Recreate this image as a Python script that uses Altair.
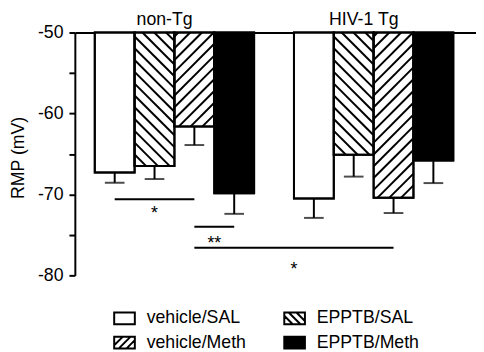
import altair as alt
import pandas as pd

# ---------------- data ----------------
groups = ["non-Tg", "HIV-1 Tg"]
treatments = ["vehicle/SAL", "EPPTB/SAL", "vehicle/Meth", "EPPTB/Meth"]
legend_order = ["vehicle/SAL", "vehicle/Meth", "EPPTB/SAL", "EPPTB/Meth"]
means_nontg = [-67.3, -66.5, -61.6, -69.85]
sems_nontg = [1.25, 1.6, 2.3, 2.55]
means_hiv = [-70.5, -65.1, -70.4, -65.8]
sems_hiv = [2.4, 2.7, 1.9, 2.8]

y_ticks = [-80, -75, -70, -65, -60, -55, -50]
baseline = -50

# significance brackets (bar slots: non-Tg 1-4, HIV-1 Tg 6-9)
sig_from = [1, 3, 3]
sig_to = [3, 4, 8]
sig_y = [-70.6, -74.0, -76.6]
sig_label_y = [-71.8, -75.5, -78.7]
sig_text = ["*", "**", "*"]

# ---------------- layout / style ----------------
W, H = 408, 247
XMAX = 10.07
YMIN, YMAX = -80, -50
PX_X = W / XMAX
PX_Y = H / (YMAX - YMIN)
HATCH_STEP = 12.0
FONT = "Liberation Sans"
hatch_dir = {"EPPTB/SAL": "back", "vehicle/Meth": "fwd"}

rows = []
for g, (means, sems) in enumerate([(means_nontg, sems_nontg), (means_hiv, sems_hiv)]):
    for i, t in enumerate(treatments):
        slot = g * 5 + i + 1
        rows.append({"group": groups[g], "treatment": t, "slot": slot,
                     "x0": slot - 0.5, "x1": slot + 0.5,
                     "mean": means[i], "base": baseline,
                     "err": means[i] - sems[i]})
df = pd.DataFrame(rows)

# hatch segments computed from bar geometry
hrows = []
for r in rows:
    d = hatch_dir.get(r["treatment"])
    if not d:
        continue
    Wb = PX_X
    Hb = (baseline - r["mean"]) * PX_Y
    kmin = -int(Wb / HATCH_STEP) - 2
    kmax = int((Hb + Wb) / HATCH_STEP) + 2
    for k in range(kmin, kmax):
        c = k * HATCH_STEP + 4
        if d == "fwd":
            u0, u1 = max(0.0, c - Hb), min(Wb, c)
            v0, v1 = c - u0, c - u1
        else:
            u0, u1 = max(0.0, -c), min(Wb, Hb - c)
            v0, v1 = u0 + c, u1 + c
        if u1 - u0 > 0.8:
            hrows.append({"x": r["x0"] + u0 / PX_X, "x2": r["x0"] + u1 / PX_X,
                          "y": baseline - v0 / PX_Y, "y2": baseline - v1 / PX_Y})
hdf = pd.DataFrame(hrows)

sdf = pd.DataFrame({"x": sig_from, "x2": sig_to, "y": sig_y,
                    "ly": sig_label_y, "txt": sig_text})
sdf["mid"] = (sdf["x"] + sdf["x2"]) / 2

gdf = pd.DataFrame({"group": groups,
                    "cx": [df[df.group == g]["slot"].mean() for g in groups],
                    "y": [baseline, baseline]})

# legend symbol paths
HY = 0.57
def box():
    return f"M-1,{-HY}L1,{-HY}L1,{HY}L-1,{HY}Z"
def hatch_path(kind):
    p = box()
    for c in [-0.75, 0.0, 0.75]:
        if kind == "back":
            xa, xb = max(-1, -HY - c), min(1, HY - c)
            p += f"M{xa:.3f},{xa + c:.3f}L{xb:.3f},{xb + c:.3f}"
        else:
            xa, xb = max(-1, c - HY), min(1, c + HY)
            p += f"M{xa:.3f},{c - xa:.3f}L{xb:.3f},{c - xb:.3f}"
    return p
shape_of = {"vehicle/SAL": box(), "EPPTB/SAL": hatch_path("back"),
            "vehicle/Meth": hatch_path("fwd"), "EPPTB/Meth": box()}
fill_of = {"vehicle/SAL": "white", "EPPTB/SAL": "white",
           "vehicle/Meth": "white", "EPPTB/Meth": "black"}

xscale = alt.Scale(domain=[0, XMAX], nice=False, zero=False)
yscale = alt.Scale(domain=[YMIN, YMAX], nice=False, zero=False)
xaxis = alt.Axis(orient="top", labels=False, ticks=False, title=None,
                 domainColor="black", domainWidth=2, grid=False)
yaxis = alt.Axis(values=y_ticks,
                 labelExpr="datum.value % 10 == 0 ? '' + datum.value : ''",
                 title="RMP (mV)", grid=False, tickSize=6, tickWidth=2,
                 tickColor="black", domainColor="black", domainWidth=2,
                 labelFontSize=18, labelFont=FONT, labelColor="black", labelPadding=6,
                 titleFontSize=18, titleFont=FONT, titleFontWeight="normal",
                 titleColor="black", titleX=-57, titleY=127, titleAngle=-90,
                 titleAlign="center", titleBaseline="middle")

X = lambda f: alt.X(f, type="quantitative", scale=xscale, axis=xaxis)
Y = lambda f: alt.Y(f, type="quantitative", scale=yscale, axis=yaxis)

bars = alt.Chart(df).mark_rect(stroke="black", strokeWidth=2).encode(
    x=X("x0"), x2="x1", y=Y("mean"), y2="base",
    fill=alt.condition(alt.datum.treatment == "EPPTB/Meth",
                       alt.value("black"), alt.value("white")))

hatch = alt.Chart(hdf).mark_rule(color="black", strokeWidth=2).encode(
    x=X("x"), x2="x2", y=Y("y"), y2="y2")

outline = alt.Chart(df).mark_rect(fillOpacity=0, stroke="black", strokeWidth=2).encode(
    x=X("x0"), x2="x1", y=Y("mean"), y2="base")

err = alt.Chart(df).mark_rule(color="black", strokeWidth=2).encode(
    x=X("slot"), y=Y("mean"), y2="err")
cap = alt.Chart(df).mark_tick(color="black", orient="horizontal", size=20, thickness=2).encode(
    x=X("slot"), y=Y("err"))

sig_lines = alt.Chart(sdf).mark_rule(color="black", strokeWidth=2).encode(
    x=X("x"), x2="x2", y=Y("y"))
sig_txt = alt.Chart(sdf).mark_text(font=FONT, fontSize=18, color="black",
                                   baseline="alphabetic", dy=10).encode(
    x=X("mid"), y=Y("ly"), text="txt:N")

glabels = alt.Chart(gdf).mark_text(font=FONT, fontSize=18, color="black",
                                   baseline="alphabetic", dy=-8, dx=-10).encode(
    x=X("cx"), y=Y("y"), text="group:N")

leg = alt.Legend(title=None, orient="none", legendX=39, legendY=279,
                 columns=2, columnPadding=34, rowPadding=3,
                 labelFont=FONT, labelFontSize=18, labelColor="black",
                 labelOffset=11, symbolSize=441,
                 symbolStrokeColor="black", symbolStrokeWidth=2,
                 symbolOpacity=1, padding=0)

legend_pts = alt.Chart(df).mark_point(filled=True, opacity=0, strokeWidth=2).encode(
    x=X("slot"), y=Y("mean"),
    fill=alt.Fill("treatment:N", sort=legend_order,
                  scale=alt.Scale(domain=legend_order,
                                  range=[fill_of[t] for t in legend_order]), legend=leg),
    shape=alt.Shape("treatment:N", sort=legend_order,
                    scale=alt.Scale(domain=legend_order,
                                    range=[shape_of[t] for t in legend_order]), legend=leg),
    stroke=alt.Stroke("treatment:N", sort=legend_order,
                      scale=alt.Scale(domain=legend_order,
                                      range=["black"] * len(legend_order)), legend=leg))

chart = alt.layer(bars, hatch, outline, err, cap, sig_lines, sig_txt, glabels, legend_pts
).properties(
    width=W, height=H,
    autosize=alt.AutoSizeParams(type="none"),
    padding={"left": 68, "top": 22, "right": 0, "bottom": 75},
    background="white",
).configure_view(stroke=None)

chart.save("out.html", embed_options={"renderer": "svg", "actions": False})
